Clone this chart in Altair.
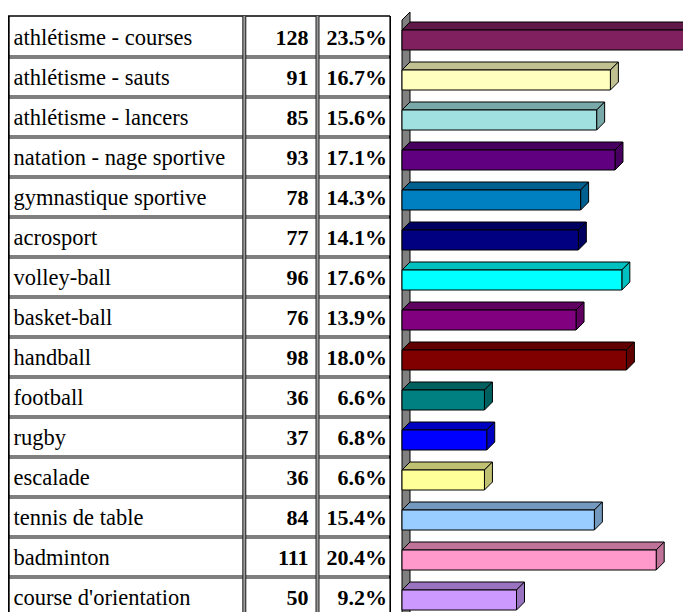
import altair as alt
import pandas as pd

# ---------------- data ----------------
labels = [
    "athlétisme - courses", "athlétisme - sauts", "athlétisme - lancers",
    "natation - nage sportive", "gymnastique sportive", "acrosport",
    "volley-ball", "basket-ball", "handball", "football", "rugby",
    "escalade", "tennis de table", "badminton", "course d'orientation",
]
counts = [128, 91, 85, 93, 78, 77, 96, 76, 98, 36, 37, 36, 84, 111, 50]
percents = [23.5, 16.7, 15.6, 17.1, 14.3, 14.1, 17.6, 13.9, 18.0, 6.6, 6.8, 6.6, 15.4, 20.4, 9.2]

front_colors = [
    "#80205F", "#FFFFC0", "#A0E0E0", "#600080", "#0080C0", "#000080",
    "#00FFFF", "#800080", "#800000", "#008080", "#0000FF", "#FFFF99",
    "#99CCFF", "#FF99CC", "#CC99FF",
]
shade_colors = [
    "#601848", "#C0C090", "#78A8A8", "#480060", "#006090", "#000060",
    "#00C0C0", "#600060", "#600000", "#006060", "#0000C0", "#C0C073",
    "#7399BF", "#BF7399", "#9973BF",
]

# ---------------- geometry ----------------
W, H = 675, 604
PPU = 2.29          # pixels per count unit
X0 = 394            # plot x of value 0
ROW = 40            # row height in px
Y0 = 9              # plot y of first row top
DX = 8 / PPU        # 3D depth in value units
DY = 8 / ROW        # 3D depth in row units

xs = alt.Scale(domain=[-X0 / PPU, (W - X0) / PPU], nice=False, zero=False)
ys = alt.Scale(domain=[-Y0 / ROW, (H - Y0) / ROW], nice=False, zero=False, reverse=True)

n = len(labels)
rows = pd.DataFrame({
    "i": list(range(n)),
    "label": labels,
    "count": counts,
    "pct": [f"{p:.1f}%" for p in percents],
})
rows["mid"] = rows["i"] + 0.5
rows["top"] = rows["i"] + 0.325
rows["bot"] = rows["i"] + 0.825

top_pts, side_pts = [], []
for _, r in rows.iterrows():
    v, t, b = r["count"], r["top"], r["bot"]
    for x, y, y2 in [(0, t, t), (DX, t, t - DY), (v, t, t - DY), (v + DX, t - DY, t - DY)]:
        top_pts.append({"label": r["label"], "px": x, "py": y, "py2": y2})
    for x, y, y2 in [(v, b, t), (v + DX, b - DY, t - DY)]:
        side_pts.append({"label": r["label"], "px": x, "py": y, "py2": y2})
top_df = pd.DataFrame(top_pts)
side_df = pd.DataFrame(side_pts)

wall_df = pd.DataFrame({"px": [0, DX], "py": [3 / ROW, 3 / ROW - DY], "py2": [(H - Y0) / ROW + 1] * 2})
bounds_df = pd.DataFrame({"r": list(range(1, n + 1))})
one = pd.DataFrame({"k": [0]})

front_scale = alt.Scale(domain=labels, range=front_colors)


def poly(df, color):
    return alt.Chart(df).mark_area(orient="vertical", color=color, stroke="black",
                                   strokeWidth=1, clip=True, opacity=1).encode(
        x=alt.X("px:Q", scale=xs, axis=None),
        y=alt.Y("py:Q", scale=ys, axis=None),
        y2="py2:Q",
    )


# ---------------- 3D bars ----------------
wall = poly(wall_df, "#808080")

front = alt.Chart(rows).mark_rect(stroke="black", strokeWidth=1, clip=True).encode(
    x=alt.X("zero:Q", scale=xs, axis=None),
    x2="count:Q",
    y=alt.Y("top:Q", scale=ys, axis=None),
    y2="bot:Q",
    color=alt.Color("label:N", scale=front_scale, legend=None),
).transform_calculate(zero="0")

faces = []
for lab, sc in zip(labels, shade_colors):
    faces.append(poly(top_df[top_df["label"] == lab], sc))
    faces.append(poly(side_df[side_df["label"] == lab], sc))

# ---------------- table ----------------
TBL_R = 382
hline_black = alt.Chart(bounds_df).mark_rule(color="black", strokeWidth=3).encode(
    y=alt.Y("r:Q", scale=ys, axis=None), x=alt.value(0), x2=alt.value(TBL_R))
hline_white = alt.Chart(bounds_df).mark_rule(color="white", strokeWidth=1).encode(
    y=alt.Y("r:Q", scale=ys, axis=None), x=alt.value(1), x2=alt.value(TBL_R - 1))
top_line = alt.Chart(one).mark_rule(color="black", strokeWidth=1.5).encode(
    y=alt.value(8), x=alt.value(0), x2=alt.value(TBL_R))


def vline(xpx, width, color):
    return alt.Chart(one).mark_rule(color=color, strokeWidth=width).encode(
        x=alt.value(xpx), y=alt.value(8), y2=alt.value(H))


vlines = [
    vline(0.8, 1.8, "black"),
    vline(236.3, 4, "#202020"), vline(236.3, 2, "#9a9a9a"),
    vline(309.5, 4, "#202020"), vline(309.5, 2, "#9a9a9a"),
    vline(382.2, 1.6, "black"),
]

FONT = "Liberation Serif"
lbl = alt.Chart(rows).mark_text(align="left", baseline="alphabetic", dy=8, font=FONT,
                                fontSize=22.5, color="black").encode(
    x=alt.value(5.5), y=alt.Y("mid:Q", scale=ys, axis=None), text="label:N")
cnt = alt.Chart(rows).mark_text(align="right", baseline="alphabetic", dy=8, font=FONT,
                                fontSize=22, fontWeight="bold", color="black").encode(
    x=alt.value(300.5), y=alt.Y("mid:Q", scale=ys, axis=None), text="count:Q")
pct = alt.Chart(rows).mark_text(align="right", baseline="alphabetic", dy=8, font=FONT,
                                fontSize=22, fontWeight="bold", color="black").encode(
    x=alt.value(379), y=alt.Y("mid:Q", scale=ys, axis=None), text="pct:N")

chart = alt.layer(
    wall, *faces, front,
    hline_black, hline_white, top_line, *vlines,
    lbl, cnt, pct,
).properties(
    width=W, height=H, padding=0, autosize="none", background="white"
).configure_view(stroke=None)

chart.save("out.html", embed_options={"renderer": "svg", "actions": False})
